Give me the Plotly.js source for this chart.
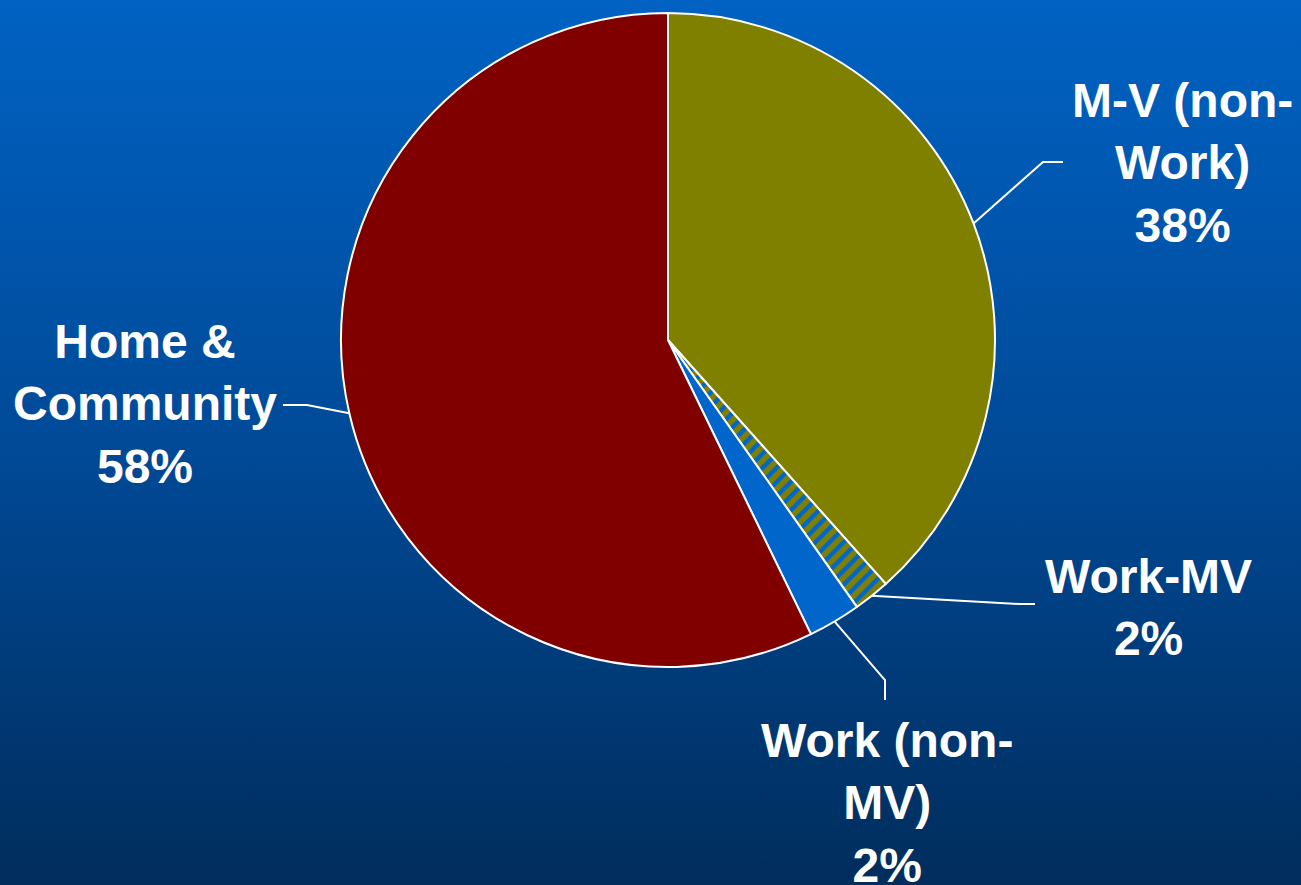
<!DOCTYPE html>
<html>
<head>
<meta charset="utf-8">
<script src="https://cdn.plot.ly/plotly-3.0.1.min.js"></script>
<style>
  html, body { margin: 0; padding: 0; width: 1301px; height: 885px; overflow: hidden;
    background: linear-gradient(to bottom, #0062c3 0%, #004a98 50%, #002d5c 100%); }
  #chart { width: 1301px; height: 885px; }
</style>
</head>
<body>
<div id="chart"></div>
<script>
// Data
const categories = ['M-V (non-Work)', 'Work-MV', 'Work (non-MV)', 'Home & Community'];
const values = [38.4, 1.8, 2.6, 57.2];
const labelTexts = ['M-V (non-<br>Work)<br>38%', 'Work-MV<br>2%', 'Work (non-<br>MV)<br>2%', 'Home &<br>Community<br>58%'];
const sliceColors = ['#808000', '#808000', '#0066cc', '#800000'];
const patternShapes = ['', '/', '', ''];

// Layout geometry (pixels)
const W = 1301, H = 885;
const cx = 668, cy = 340, R = 327;
// label centers, elbow and end points of leader lines
const labelPos = [[1182, 163], [1148, 607], [887, 803], [145, 404]];
const elbows = [[1043, 162], [1020, 604], [885, 680], [307, 405]];
const ends = [[1063, 162], [1035, 604], [885, 700], [283, 405]];

const px = x => x / W;
const py = y => 1 - y / H;

const total = values.reduce((a, b) => a + b, 0);
let cum = 0;
const shapes = [];
const annotations = [];
values.forEach((v, i) => {
  const mid = (cum + v / 2) / total * 2 * Math.PI;
  cum += v;
  const ax = cx + R * Math.sin(mid);
  const ay = cy - R * Math.cos(mid);
  shapes.push({
    type: 'path', xref: 'paper', yref: 'paper',
    path: `M ${px(ax)} ${py(ay)} L ${px(elbows[i][0])} ${py(elbows[i][1])} L ${px(ends[i][0])} ${py(ends[i][1])}`,
    line: { color: 'white', width: 2 }
  });
  annotations.push({
    xref: 'paper', yref: 'paper', x: px(labelPos[i][0]), y: py(labelPos[i][1]),
    xanchor: 'center', yanchor: 'middle', showarrow: false, align: 'center',
    text: '<b>' + labelTexts[i].split('<br>').join('</b><br><b>') + '</b>',
    font: { family: 'Liberation Sans, Arial, sans-serif', size: 48, color: 'white' }
  });
});

const trace = {
  type: 'pie',
  labels: categories,
  values: values,
  sort: false,
  direction: 'clockwise',
  rotation: 0,
  textinfo: 'none',
  hoverinfo: 'skip',
  showlegend: false,
  domain: { x: [px(cx - R), px(cx + R)], y: [py(cy + R), py(cy - R)] },
  marker: {
    colors: sliceColors,
    line: { color: 'white', width: 2 },
    pattern: { shape: patternShapes, fgcolor: '#0066cc', bgcolor: '#808000', size: 10, solidity: 0.45 }
  }
};

const layout = {
  width: W, height: H,
  margin: { l: 0, r: 0, t: 0, b: 0 },
  paper_bgcolor: 'rgba(0,0,0,0)',
  plot_bgcolor: 'rgba(0,0,0,0)',
  showlegend: false,
  shapes: shapes,
  annotations: annotations
};

Plotly.newPlot('chart', [trace], layout, { displayModeBar: false, staticPlot: true });
</script>
</body>
</html>
